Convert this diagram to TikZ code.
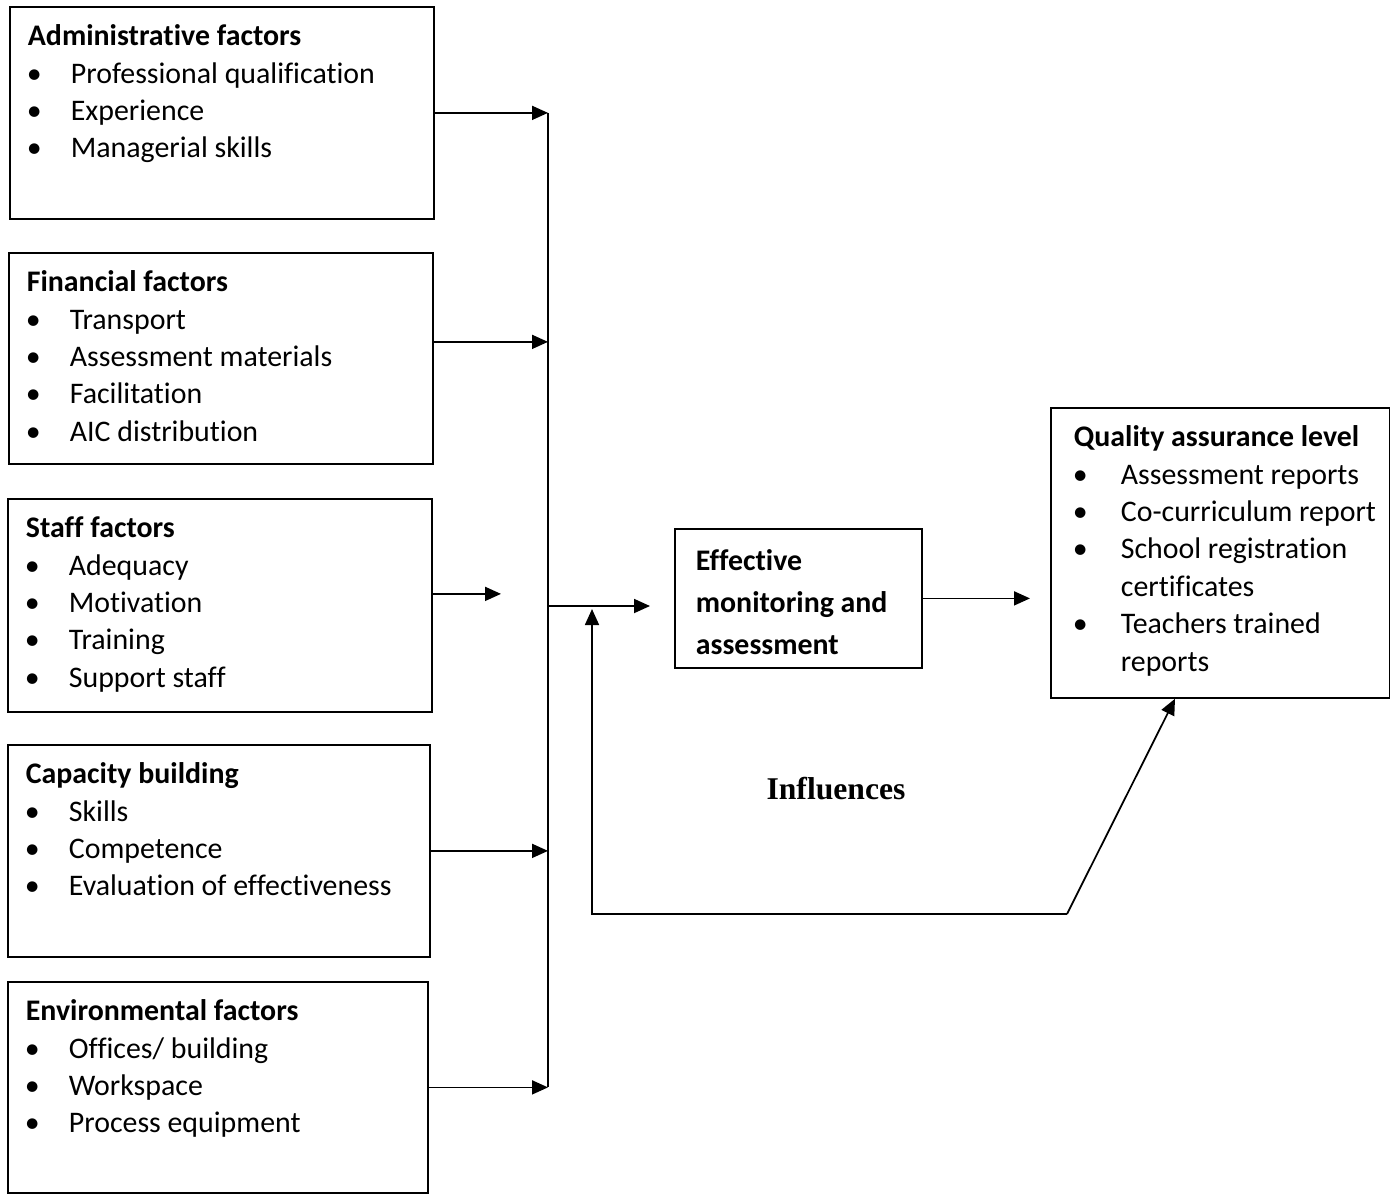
\documentclass[tikz,border=0pt]{standalone}
\usepackage{fontspec}
\setmainfont{Carlito}[Ligatures=NoCommon]
\newfontfamily\timesfont{Liberation Serif}
\usetikzlibrary{arrows.meta}
% box text: fixed height, top aligned
\newcommand\boxtext[3]{\parbox[t][#1][t]{#2}{\fontsize{17}{21.3}\selectfont\raggedright #3}}
\newcommand\fitem[2][0.88cm]{\par\hangindent=\dimexpr#1-0.02cm\relax\hangafter=1\noindent
  \hspace*{-0.02cm}\makebox[#1][l]{\textbullet}#2}
\tikzset{
  factorbox/.style={draw, line width=1pt, anchor=north west, inner xsep=0.36cm, inner ysep=0.25cm},
  farr/.style={-{Triangle[length=3.2mm,width=2.8mm]}, line width=1pt}
}
\begin{document}
\begin{tikzpicture}
\useasboundingbox (0,0) rectangle (27.8,-23.86);
% factor boxes (left column)
\node[factorbox] (adm) at (0.18,-0.12) {\boxtext{3.74cm}{7.76cm}{\textbf{\strut Administrative factors}
  \fitem{Professional qualification}\fitem{Experience}\fitem{Managerial skills}}};
\node[factorbox] (fin) at (0.16,-5.04) {\boxtext{3.72cm}{7.76cm}{\textbf{\strut Financial factors}
  \fitem{Transport}\fitem{Assessment materials}\fitem{Facilitation}\fitem{AIC distribution}}};
\node[factorbox] (stf) at (0.14,-9.96) {\boxtext{3.76cm}{7.76cm}{\textbf{\strut Staff factors}
  \fitem{Adequacy}\fitem{Motivation}\fitem{Training}\fitem{Support staff}}};
\node[factorbox] (cap) at (0.14,-14.88) {\boxtext{3.74cm}{7.72cm}{\textbf{\strut Capacity building}
  \fitem{Skills}\fitem{Competence}\fitem{Evaluation of effectiveness}}};
\node[factorbox] (env) at (0.14,-19.62) {\boxtext{3.72cm}{7.68cm}{\textbf{\strut Environmental factors}
  \fitem{Offices/ building}\fitem{Workspace}\fitem{Process equipment}}};
% middle and right boxes
\node[factorbox, inner xsep=0.42cm] (eff) at (13.48,-10.56) {\boxtext{2.28cm}{4.1cm}{\fontsize{17}{23.8}\selectfont\bfseries
  \strut Effective\\monitoring and\\assessment}};
\node[factorbox, inner xsep=0.3cm] (qa) at (21.0,-8.14) {\boxtext{5.3cm}{6.18cm}{\leftskip=0.16cm
  \textbf{\strut Quality assurance level}
  \fitem[0.96cm]{Assessment reports}\fitem[0.96cm]{\mbox{Co-curriculum report}}
  \fitem[0.96cm]{School registration\newline certificates}\fitem[0.96cm]{Teachers trained\newline reports}}};
\node[font=\timesfont\bfseries\fontsize{18}{22}\selectfont] (infl) at (16.72,-15.78) {Influences};
% connector points
\coordinate (bus) at (10.96,0);
\coordinate (stfend) at (10.02,0);
\coordinate (bj) at (10.96,-12.12);
\coordinate (effin) at (13.0,-12.12);
\coordinate (qain) at (20.6,0);
\coordinate (fbr) at (21.34,-18.28);
\coordinate (fbl) at (11.84,-18.28);
\coordinate (fbtop) at (11.84,-12.18);
% connectors
\draw[line width=1pt] (adm.east -| bus) -- (env.east -| bus);
\draw[farr] (adm.east) -- (adm.east -| bus);
\draw[farr] ([yshift=0.33cm]fin.east) -- ([yshift=0.33cm]fin.east -| bus);
\draw[farr] ([yshift=0.23cm]stf.east) -- ([yshift=0.23cm]stf.east -| stfend);
\draw[farr] (cap.east) -- (cap.east -| bus);
\draw[farr] (env.east) -- (env.east -| bus);
\draw[farr] (bj) -- (effin);
\draw[farr] (eff.east) -- (eff.east -| qain);
\draw[farr] (fbr) -- ([xshift=2.5cm]qa.south west);
\draw[farr] (fbr) -- (fbl) -- (fbtop);
\end{tikzpicture}
\end{document}
